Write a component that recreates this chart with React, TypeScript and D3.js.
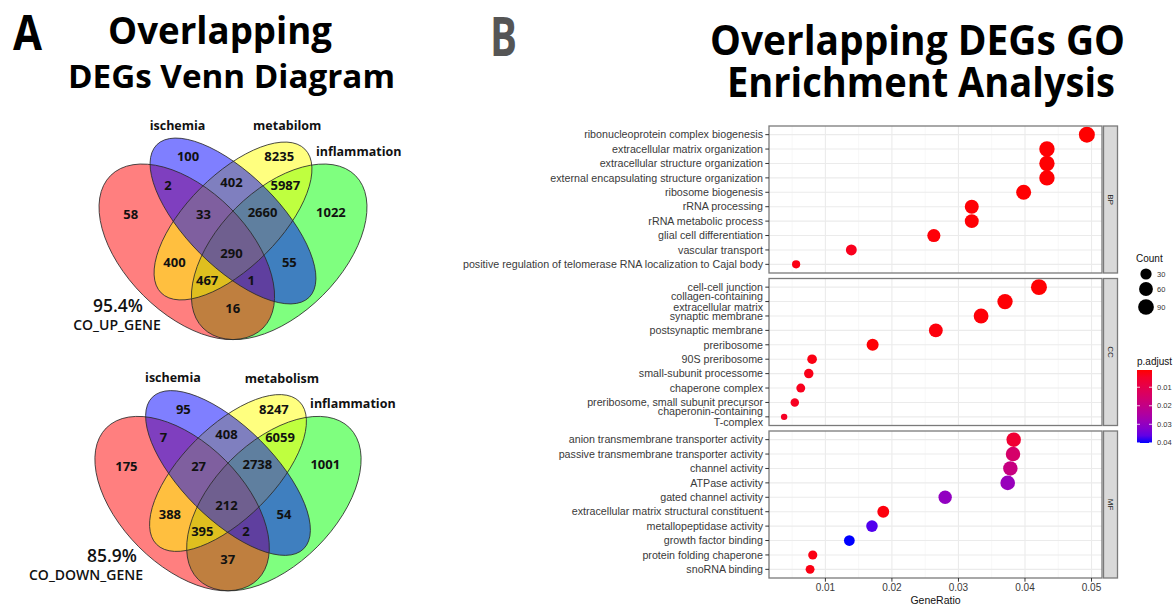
import React, { useEffect } from 'react';
import * as d3 from 'd3';

// ---------------- Venn data ----------------
// region order: R, B, Y, G, RB, BY, YG, RBY, BYG, RY, RBYG, BG, RYG, RBG, RG
const upCounts = [58, 100, 8235, 1022, 2, 402, 5987, 33, 2660, 400, 290, 55, 467, 1, 16];
const downCounts = [175, 95, 8247, 1001, 7, 408, 6059, 27, 2738, 388, 212, 54, 395, 2, 37];
const upSetNames = ['ischemia', 'metabilom', 'inflammation'];
const downSetNames = ['ischemia', 'metabolism', 'inflammation'];
const upPct = '95.4%';
const upGene = 'CO_UP_GENE';
const downPct = '85.9%';
const downGene = 'CO_DOWN_GENE';

// ---------------- GO data ----------------
const ontologies = ['BP', 'CC', 'MF'];
const bpTerms = [
  'ribonucleoprotein complex biogenesis',
  'extracellular matrix organization',
  'extracellular structure organization',
  'external encapsulating structure organization',
  'ribosome biogenesis',
  'rRNA processing',
  'rRNA metabolic process',
  'glial cell differentiation',
  'vascular transport',
  'positive regulation of telomerase RNA localization to Cajal body',
];
const bpRatio = [0.0493, 0.0433, 0.0433, 0.0433, 0.0398, 0.032, 0.032, 0.0263, 0.0139, 0.0056];
const bpCount = [95, 84, 84, 84, 77, 62, 62, 51, 27, 11];
const bpPadj = [0.0007, 0.0009, 0.0009, 0.0009, 0.0008, 0.001, 0.001, 0.0012, 0.003, 0.002];

const ccTerms = [
  'cell-cell junction',
  'collagen-containing\nextracellular matrix',
  'synaptic membrane',
  'postsynaptic membrane',
  'preribosome',
  '90S preribosome',
  'small-subunit processome',
  'chaperone complex',
  'preribosome, small subunit precursor',
  'chaperonin-containing\nT-complex',
];
const ccRatio = [0.0421, 0.037, 0.0334, 0.0266, 0.0171, 0.008, 0.0075, 0.0063, 0.0054, 0.0038];
const ccCount = [94, 83, 75, 60, 38, 18, 17, 14, 12, 8];
const ccPadj = [0.0008, 0.001, 0.0012, 0.0015, 0.001, 0.002, 0.0025, 0.003, 0.0035, 0.004];

const mfTerms = [
  'anion transmembrane transporter activity',
  'passive transmembrane transporter activity',
  'channel activity',
  'ATPase activity',
  'gated channel activity',
  'extracellular matrix structural constituent',
  'metallopeptidase activity',
  'growth factor binding',
  'protein folding chaperone',
  'snoRNA binding',
];
const mfRatio = [0.0383, 0.0382, 0.0378, 0.0374, 0.028, 0.0187, 0.017, 0.0136, 0.0081, 0.0077];
const mfCount = [70, 70, 69, 72, 54, 36, 33, 26, 15, 14];
const mfPadj = [0.006, 0.015, 0.019, 0.029, 0.03, 0.0015, 0.0374, 0.0401, 0.002, 0.002];

const xTicks = [0.01, 0.02, 0.03, 0.04, 0.05];
const countBreaks = [30, 60, 90];
const padjBreaks = [0.01, 0.02, 0.03, 0.04];

// ---------------- layout constants ----------------
const ELLIPSES = [
  { x: 0.65, y: 0.47, a: 0.35, b: 0.2, rot: 45, fill: '#00FF00' },
  { x: 0.35, y: 0.47, a: 0.35, b: 0.2, rot: 135, fill: '#FF0000' },
  { x: 0.5, y: 0.57, a: 0.33, b: 0.15, rot: 45, fill: '#FFFF00' },
  { x: 0.5, y: 0.57, a: 0.35, b: 0.15, rot: 135, fill: '#0000FF' },
];
const REGION_POS = [
  [0.168, 0.59], [0.354, 0.778], [0.65, 0.778], [0.818, 0.599],
  [0.289, 0.686], [0.495, 0.695], [0.67, 0.686],
  [0.404, 0.591], [0.596, 0.599], [0.31, 0.436], [0.495, 0.465],
  [0.683, 0.435], [0.416, 0.378], [0.559, 0.378], [0.499, 0.287],
];
const CAT_POS = [[0.32, 0.881], [0.676, 0.879], [0.908, 0.796]];

const SANS = "'Open Sans', 'DejaVu Sans', sans-serif";
const ARIAL = "'Liberation Sans', Arial, Helvetica, sans-serif";

function Venn(props: any) {
  const { cx, cy, s, counts, names, pct, gene, pctX, pctY, geneX, geneY } = props;
  const x = d3.scaleLinear().domain([0, 1]).range([cx - 0.5 * s, cx + 0.5 * s]);
  const y = d3.scaleLinear().domain([0, 1]).range([cy + 0.57 * s, cy - 0.43 * s]);
  const ells = ELLIPSES.map((e) => ({
    cx: x(e.x), cy: y(e.y), rx: e.a * s, ry: e.b * s, rot: -e.rot, fill: e.fill,
  }));
  return (
    <g fontFamily={SANS}>
      {ells.map((e, i) => (
        <ellipse key={'f' + i} cx={e.cx} cy={e.cy} rx={e.rx} ry={e.ry}
          transform={`rotate(${e.rot} ${e.cx} ${e.cy})`} fill={e.fill} fillOpacity={0.5} stroke="none" />
      ))}
      {ells.map((e, i) => (
        <ellipse key={'s' + i} cx={e.cx} cy={e.cy} rx={e.rx} ry={e.ry}
          transform={`rotate(${e.rot} ${e.cx} ${e.cy})`} fill="none" stroke="#2a2a2a" strokeWidth={0.8} />
      ))}
      {counts.map((c: number, i: number) => (
        <text key={'c' + i} x={x(REGION_POS[i][0])} y={y(REGION_POS[i][1])} dy="0.35em"
          textAnchor="middle" fontSize={13} fontWeight={700} fill="#111">{c}</text>
      ))}
      {names.map((n: string, i: number) => (
        <text key={'n' + i} x={x(CAT_POS[i][0])} y={y(CAT_POS[i][1])} dy="0.35em"
          textAnchor="middle" fontSize={12.5} fontWeight={700} fill="#111">{n}</text>
      ))}
      <text x={pctX} y={pctY} textAnchor="middle" fontSize={17.5} fontWeight={600} fill="#111">{pct}</text>
      <text x={geneX} y={geneY} textAnchor="middle" fontSize={14} fontWeight={600} fill="#111">{gene}</text>
    </g>
  );
}

function DotPlot() {
  const panels = [
    { name: ontologies[0], terms: bpTerms, ratio: bpRatio, count: bpCount, padj: bpPadj },
    { name: ontologies[1], terms: ccTerms, ratio: ccRatio, count: ccCount, padj: ccPadj },
    { name: ontologies[2], terms: mfTerms, ratio: mfRatio, count: mfCount, padj: mfPadj },
  ];
  const allRatio = [...bpRatio, ...ccRatio, ...mfRatio];
  const allCount = [...bpCount, ...ccCount, ...mfCount];
  const allPadj = [...bpPadj, ...ccPadj, ...mfPadj];
  const [rmin, rmax] = d3.extent(allRatio) as [number, number];
  const pad = (rmax - rmin) * 0.05;
  const left = 769, right = 1102;
  const x = d3.scaleLinear().domain([rmin - pad, rmax + pad]).range([left, right]);
  const [cmin, cmax] = d3.extent(allCount) as [number, number];
  const rScale = d3.scaleLinear().domain([0, 1]).range([3.2, 8]);
  const radius = (c: number) => rScale(Math.sqrt((c - cmin) / (cmax - cmin)));
  const [pmin, pmax] = d3.extent(allPadj) as [number, number];
  const interp = d3.interpolateLab('#FF0000', '#0000FF');
  const color = (p: number) => interp((p - pmin) / (pmax - pmin));

  const top0 = 126, panelH = 147, gap = 5.5;
  const majors = xTicks;
  const minors = d3.range(0.005, rmax + pad, 0.01).filter((v) => x(v) > left && x(v) < right);
  const borderCol = '#7a7a7a';

  const barTop = 370, barBot = 443, barX = 1137, barW = 15;
  const py = d3.scaleLinear().domain([pmin, pmax]).range([barTop, barBot]);
  const gradStops = d3.range(0, 1.0001, 0.1);
  const countY = [274, 289, 307];

  return (
    <g fontFamily={ARIAL}>
      <defs>
        <linearGradient id="padjGrad" x1="0" y1="0" x2="0" y2="1">
          {gradStops.map((t, i) => (
            <stop key={i} offset={t} stopColor={interp(t)} />
          ))}
        </linearGradient>
      </defs>
      {panels.map((p, pi) => {
        const top = top0 + pi * (panelH + gap);
        const yS = d3.scalePoint<string>().domain(p.terms).range([top, top + panelH]).padding(0.6);
        return (
          <g key={p.name}>
            <rect x={left} y={top} width={right - left} height={panelH} fill="#fff" />
            {minors.map((v) => (
              <line key={'mi' + v} x1={x(v)} x2={x(v)} y1={top} y2={top + panelH} stroke="#F2F2F2" strokeWidth={0.6} />
            ))}
            {majors.map((v) => (
              <line key={'ma' + v} x1={x(v)} x2={x(v)} y1={top} y2={top + panelH} stroke="#EBEBEB" strokeWidth={1.1} />
            ))}
            {p.terms.map((t) => (
              <line key={'h' + t} x1={left} x2={right} y1={yS(t)} y2={yS(t)} stroke="#EBEBEB" strokeWidth={1.1} />
            ))}
            {p.terms.map((t, i) => (
              <circle key={'d' + t} cx={x(p.ratio[i])} cy={yS(t)} r={radius(p.count[i])} fill={color(p.padj[i])} />
            ))}
            <rect x={left} y={top} width={right - left} height={panelH} fill="none" stroke={borderCol} strokeWidth={1.3} />
            {p.terms.map((t) => {
              const lines = t.split('\n');
              const yy = yS(t) as number;
              return (
                <g key={'l' + t}>
                  <line x1={left - 3.7} x2={left} y1={yy} y2={yy} stroke="#333" strokeWidth={1} />
                  {lines.map((ln, li) => (
                    <text key={li} x={left - 6} y={yy + (li - (lines.length - 1) / 2) * 11.5} dy="0.35em"
                      textAnchor="end" fontSize={10.7} fill="#3a3a3a">{ln}</text>
                  ))}
                </g>
              );
            })}
            <rect x={1103.5} y={top} width={14} height={panelH} fill="#D9D9D9" stroke={borderCol} strokeWidth={1.3} />
            <text transform={`translate(${1110.5},${top + panelH / 2}) rotate(90)`} textAnchor="middle" dy="0.35em"
              fontSize={8} fill="#1A1A1A">{p.name}</text>
          </g>
        );
      })}
      {/* x axis */}
      {xTicks.map((v) => {
        const b = top0 + 3 * panelH + 2 * gap;
        return (
          <g key={'xt' + v}>
            <line x1={x(v)} x2={x(v)} y1={b} y2={b + 3.7} stroke="#333" strokeWidth={1} />
            <text x={x(v)} y={b + 13} textAnchor="middle" fontSize={10} fill="#3a3a3a">{d3.format('.2f')(v)}</text>
          </g>
        );
      })}
      <text x={(left + right) / 2} y={603.5} textAnchor="middle" fontSize={10.5} fill="#111">GeneRatio</text>

      {/* Count legend */}
      <text x={1136} y={262} fontSize={10} fill="#111">Count</text>
      {countBreaks.map((c, i) => (
        <g key={'cl' + c}>
          <circle cx={1146} cy={countY[i]} r={radius(c)} fill="#000" />
          <text x={1157} y={countY[i]} dy="0.35em" fontSize={7.5} fill="#333">{c}</text>
        </g>
      ))}

      {/* p.adjust legend */}
      <text x={1137} y={365} fontSize={10} fill="#111">p.adjust</text>
      <rect x={barX} y={barTop} width={barW} height={barBot - barTop} fill="url(#padjGrad)" />
      {padjBreaks.map((v) => (
        <g key={'pb' + v}>
          <line x1={barX} x2={barX + 3} y1={py(v)} y2={py(v)} stroke="#fff" strokeWidth={0.8} />
          <line x1={barX + barW - 3} x2={barX + barW} y1={py(v)} y2={py(v)} stroke="#fff" strokeWidth={0.8} />
          <text x={1157} y={py(v)} dy="0.35em" fontSize={7.5} fill="#333">{d3.format('.2f')(v)}</text>
        </g>
      ))}
    </g>
  );
}

export default function App() {
  useEffect(() => {
    document.body.style.margin = '0';
  }, []);
  return (
    <svg width={1175} height={605} viewBox="0 0 1175 605"
      style={{ position: 'absolute', left: 0, top: 0, background: '#fff', display: 'block' }}>
      <rect x={0} y={0} width={1175} height={605} fill="#fff" />
      {/* Titles */}
      <g fontFamily={SANS} fontWeight={700} fill="#000">
        <text x={13} y={50} fontSize={48} textLength={29} lengthAdjust="spacingAndGlyphs">A</text>
        <text x={108} y={44} fontSize={37} textLength={224} lengthAdjust="spacingAndGlyphs">Overlapping</text>
        <text x={68} y={88} fontSize={33} textLength={327} lengthAdjust="spacingAndGlyphs">DEGs Venn Diagram</text>
        <text x={490} y={56} fontSize={53} fill="#555" textLength={27} lengthAdjust="spacingAndGlyphs">B</text>
        <text x={710} y={55} fontSize={41} textLength={415} lengthAdjust="spacingAndGlyphs">Overlapping DEGs GO</text>
        <text x={727} y={97} fontSize={41} textLength={388} lengthAdjust="spacingAndGlyphs">Enrichment Analysis</text>
      </g>
      <Venn cx={233} cy={221} s={308} counts={upCounts} names={upSetNames} pct={upPct} gene={upGene}
        pctX={118} pctY={312} geneX={117} geneY={330} />
      <Venn cx={228} cy={473} s={306} counts={downCounts} names={downSetNames} pct={downPct} gene={downGene}
        pctX={112} pctY={562} geneX={86} geneY={580} />
      <DotPlot />
    </svg>
  );
}
